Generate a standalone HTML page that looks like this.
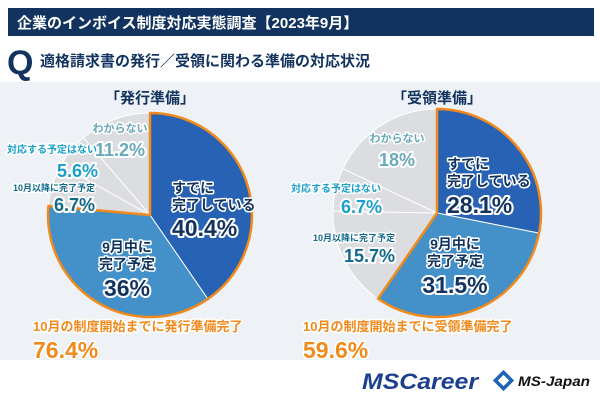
<!DOCTYPE html>
<html><head><meta charset="utf-8"><style>
body{margin:0;width:600px;height:400px;overflow:hidden;background:#fff;font-family:"Liberation Sans","Noto Sans CJK JP",sans-serif}
svg text{font-family:"Liberation Sans","Noto Sans CJK JP",sans-serif;font-weight:bold;paint-order:stroke;stroke:#fff;stroke-linejoin:round}
</style></head><body>
<svg id="chart" width="600" height="400">
<rect x="0" y="82" width="600" height="278" fill="#eef2f6"/>
<rect x="8" y="8" width="586" height="28" fill="#12335f"/>
<text x="17" y="28" font-size="15" fill="#fff" stroke-width="0">企業のインボイス制度対応実態調査【2023年9月】</text>
<text x="7" y="74" font-size="34" fill="#12335f" stroke-width="0" font-family="Liberation Sans">Q</text>
<text x="40" y="66" font-size="15" fill="#12335f" stroke-width="0">適格請求書の発行／受領に関わる準備の対応状況</text>
<text x="150" y="103" font-size="15" fill="#12335f" stroke-width="0" text-anchor="middle">「発行準備」</text>
<text x="437" y="103" font-size="15" fill="#12335f" stroke-width="0" text-anchor="middle">「受領準備」</text>
<g id="pies"></g>
<text x="33" y="331" font-size="13" fill="#f08a1c" stroke-width="3">10月の制度開始までに発行準備完了</text>
<text x="33" y="358" font-size="23" fill="#f08a1c" stroke-width="3">76.4%</text>
<text x="303" y="331" font-size="13" fill="#f08a1c" stroke-width="3">10月の制度開始までに受領準備完了</text>
<text x="303" y="358" font-size="23" fill="#f08a1c" stroke-width="3">59.6%</text>
<text x="362" y="389" font-size="22" font-style="italic" fill="#1d3f8f" stroke-width="0.6" stroke="#1d3f8f" textLength="116" lengthAdjust="spacingAndGlyphs" font-family="Liberation Sans">MSCareer</text>
<g>
<rect x="496" y="373" width="15" height="15" fill="#1e63b5" transform="rotate(45 503.5 380.5)"/>
<rect x="499.5" y="376.5" width="8" height="8" fill="#fff" transform="rotate(45 503.5 380.5)"/>
<text x="518" y="386" font-size="14" font-style="italic" fill="#111" stroke-width="0" textLength="72" lengthAdjust="spacingAndGlyphs" font-family="Liberation Sans">MS-Japan</text>
</g>
</svg>
<script>
const categories=["すでに完了している","9月中に完了予定","10月以降に完了予定","対応する予定はない","わからない"];
const issueValues=[40.4,36,6.7,5.6,11.2];
const receiveValues=[28.1,31.5,15.7,6.7,18];
const issueLabels=["40.4%","36%","6.7%","5.6%","11.2%"];
const receiveLabels=["28.1%","31.5%","15.7%","6.7%","18%"];
const colors=["#2762b5","#4490c8","#dcdde1","#dcdde1","#dcdde1"];
const NS="http://www.w3.org/2000/svg";
const g=document.getElementById('pies');
function pt(cx,cy,r,v){const a=v/100*2*Math.PI-Math.PI/2;return [cx+r*Math.cos(a),cy+r*Math.sin(a)];}
function arc(cx,cy,r,a,b){const p=pt(cx,cy,r,a),q=pt(cx,cy,r,b);return `M${cx},${cy}L${p[0]},${p[1]}A${r},${r} 0 ${b-a>50?1:0} 1 ${q[0]},${q[1]}Z`;}
function txt(x,y,s,size,fill,anchor,name){const t=document.createElementNS(NS,'text');t.setAttribute('x',x);t.setAttribute('y',y);t.setAttribute('font-size',size);t.setAttribute('fill',fill);t.setAttribute('stroke-width',size>15?4:3);t.setAttribute('text-anchor',anchor);t.textContent=s;


g.appendChild(t);}
function pie(cx,cy,r,vals,key){let c=0;vals.forEach((v,i)=>{const p=document.createElementNS(NS,'path');p.setAttribute('d',arc(cx,cy,r,c,c+v));p.setAttribute('fill',colors[i]);p.setAttribute('stroke','#fff');p.setAttribute('stroke-width','1');


g.appendChild(p);c+=v;});
const o=document.createElementNS(NS,'path');o.setAttribute('d',arc(cx,cy,r,0,vals[0]+vals[1]));o.setAttribute('fill','none');o.setAttribute('stroke','#f08a1c');o.setAttribute('stroke-width','2.5');o.setAttribute('stroke-linejoin','round');


g.appendChild(o);}
pie(150,215,102,issueValues,'issue');
pie(437,213,104,receiveValues,'receive');
const N="#12335f";
txt(172,193,"すでに",14,N,"start","issue-done-label");
txt(172,210,"完了している",14,N,"start","issue-done-label2");
txt(172,236,issueLabels[0],23,N,"start","issue-done-value");
txt(127,252,"9月中に",14,N,"middle","issue-sept-label");
txt(127,269,"完了予定",14,N,"middle","issue-sept-label2");
txt(127,296,issueLabels[1],23,N,"middle","issue-sept-value");
txt(120,132,"わからない",11,"#6aaabb","middle","issue-unknown-label");
txt(120,156,issueLabels[4],18,"#6aaabb","middle","issue-unknown-value");
txt(97,153,"対応する予定はない",10,"#1aa0c8","end","issue-none-label");
txt(98,177,issueLabels[3],18,"#1aa0c8","end","issue-none-value");
txt(95,191,"10月以降に完了予定",9,"#12698a","end","issue-oct-label");
txt(95,211,issueLabels[2],18,"#12698a","end","issue-oct-value");
txt(447,169,"すでに",14,N,"start","receive-done-label");
txt(447,186,"完了している",14,N,"start","receive-done-label2");
txt(447,213,receiveLabels[0],23,N,"start","receive-done-value");
txt(455,249,"9月中に",14,N,"middle","receive-sept-label");
txt(455,266,"完了予定",14,N,"middle","receive-sept-label2");
txt(455,293,receiveLabels[1],23,N,"middle","receive-sept-value");
txt(397,142,"わからない",11,"#6aaabb","middle","receive-unknown-label");
txt(397,166,receiveLabels[4],18,"#6aaabb","middle","receive-unknown-value");
txt(381,192,"対応する予定はない",10,"#1aa0c8","end","receive-none-label");
txt(382,213,receiveLabels[3],18,"#1aa0c8","end","receive-none-value");
txt(395,241,"10月以降に完了予定",9,"#12698a","end","receive-oct-label");
txt(395,262,receiveLabels[2],18,"#12698a","end","receive-oct-value");
</script>
</body></html>
